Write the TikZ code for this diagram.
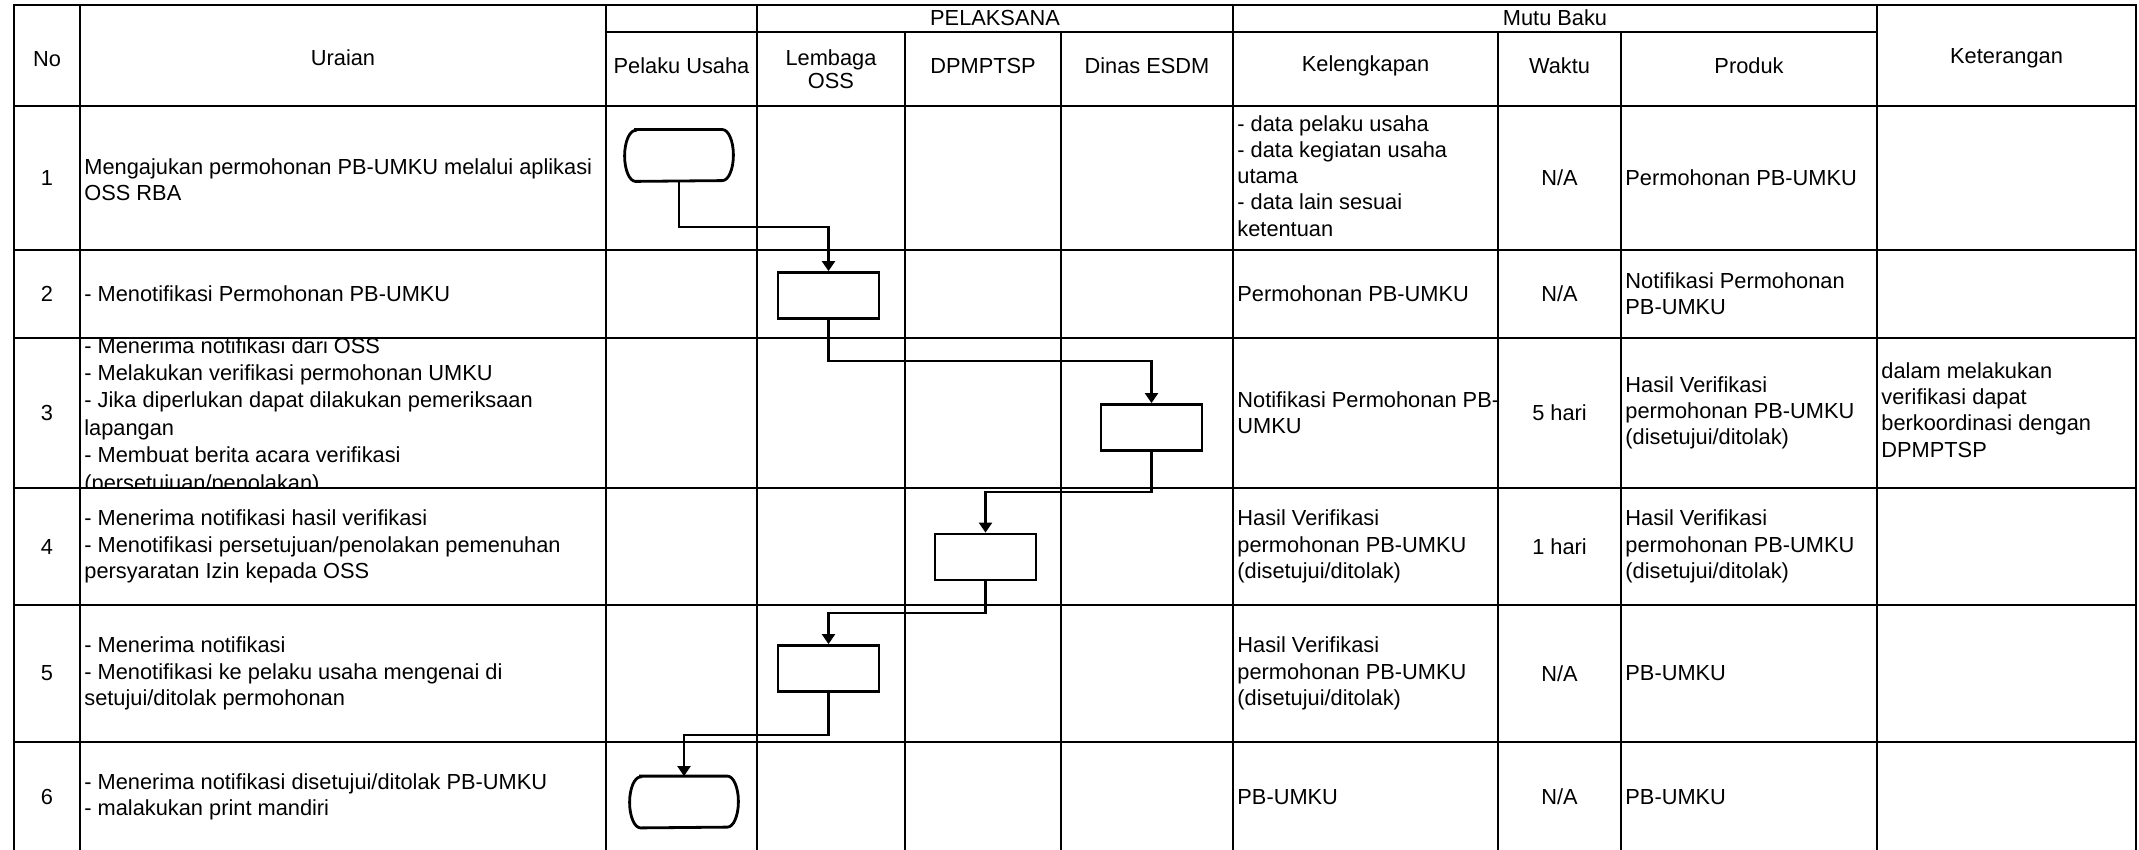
\documentclass[tikz,border=0pt]{standalone}
\usepackage{fontspec}
\setmainfont{Liberation Sans}
\usetikzlibrary{arrows.meta}
\begin{document}
\begin{tikzpicture}[x=0.5pt,y=-0.5pt,
  grid/.style={line width=1pt, line cap=rect},
  txt/.style={font=\fontsize{10.9}{13.1}\selectfont, inner sep=0pt, align=left, anchor=west},
  ctxt/.style={font=\fontsize{10.9}{13.1}\selectfont, inner sep=0pt, align=center},
  procbox/.style={draw, line width=1.4pt, minimum width=50.5pt, minimum height=23pt, inner sep=0pt},
  termbox/.style={minimum width=54pt, minimum height=25.5pt, inner sep=0pt},
  termline/.style={line width=1.4pt},
  flow/.style={line width=1.1pt, -{Triangle[length=5pt,width=6.5pt]}}
]
\useasboundingbox (0,0) rectangle (2139,850);

% ---------- header texts ----------
\node[ctxt] (hNo) at (47,59) {No};
\node[ctxt] (hUr) at (343,58) {Uraian};
\node[ctxt] (hPel) at (995,18) {PELAKSANA};
\node[ctxt] (hMutu) at (1555,18) {Mutu Baku};
\node[ctxt] (hPU) at (681.5,66) {Pelaku Usaha};
\node[ctxt, font=\fontsize{10.9}{11.5}\selectfont] (hLO) at (831,69) {Lembaga\\OSS};
\node[ctxt] (hDP) at (983,66) {DPMPTSP};
\node[ctxt] (hDE) at (1147,66) {Dinas ESDM};
\node[ctxt] (hKel) at (1365.5,66) {Kelengkapan};
\node[ctxt] (hWak) at (1559.5,66) {Waktu};
\node[ctxt] (hPro) at (1749,66) {Produk};
\node[ctxt] (hKet) at (2006.5,58) {Keterangan};

% ---------- row numbers ----------
\node[ctxt] (n1) at (47,178) {1};
\node[ctxt] (n2) at (47,294) {2};
\node[ctxt] (n3) at (47,413) {3};
\node[ctxt] (n4) at (47,546.5) {4};
\node[ctxt] (n5) at (47,673.5) {5};
\node[ctxt] (n6) at (47,797) {6};

% ---------- Uraian ----------
\node[txt] (u1) at (84,180) {Mengajukan permohonan PB-UMKU melalui aplikasi\\OSS RBA};
\node[txt] (u2) at (84,294) {- Menotifikasi Permohonan PB-UMKU};
\begin{scope}
\clip (80,338) rectangle (606,488);
\node[txt, font=\fontsize{10.9}{13.7}\selectfont] (u3) at (84,416) {- Menerima notifikasi dari OSS\\- Melakukan verifikasi permohonan UMKU\\- Jika diperlukan dapat dilakukan pemeriksaan\\lapangan\\- Membuat berita acara verifikasi\\(persetujuan/penolakan)};
\end{scope}
\node[txt] (u4) at (84,546.5) {- Menerima notifikasi hasil verifikasi\\- Menotifikasi persetujuan/penolakan pemenuhan\\persyaratan Izin kepada OSS};
\node[txt] (u5) at (84,673.5) {- Menerima notifikasi\\- Menotifikasi ke pelaku usaha mengenai di\\setujui/ditolak permohonan};
\node[txt] (u6) at (84,797) {- Menerima notifikasi disetujui/ditolak PB-UMKU\\- malakukan print mandiri};

% ---------- Kelengkapan ----------
\node[txt] (k1) at (1237,176) {- data pelaku usaha\\- data kegiatan usaha\\utama\\- data lain sesuai\\ketentuan};
\node[txt] (k2) at (1237,294) {Permohonan PB-UMKU};
\node[txt] (k3) at (1237,413) {Notifikasi Permohonan PB-\\UMKU};
\node[txt] (k4) at (1237,546.5) {Hasil Verifikasi\\permohonan PB-UMKU\\(disetujui/ditolak)};
\node[txt] (k5) at (1237,673.5) {Hasil Verifikasi\\permohonan PB-UMKU\\(disetujui/ditolak)};
\node[txt] (k6) at (1237,797) {PB-UMKU};

% ---------- Waktu ----------
\node[ctxt] (w1) at (1559.5,178) {N/A};
\node[ctxt] (w2) at (1559.5,294) {N/A};
\node[ctxt] (w3) at (1559.5,413) {5 hari};
\node[ctxt] (w4) at (1559.5,546.5) {1 hari};
\node[ctxt] (w5) at (1559.5,673.5) {N/A};
\node[ctxt] (w6) at (1559.5,797) {N/A};

% ---------- Produk ----------
\node[txt] (p1) at (1625,178) {Permohonan PB-UMKU};
\node[txt] (p2) at (1625,294) {Notifikasi Permohonan\\PB-UMKU};
\node[txt] (p3) at (1625,413) {Hasil Verifikasi\\permohonan PB-UMKU\\(disetujui/ditolak)};
\node[txt] (p4) at (1625,546.5) {Hasil Verifikasi\\permohonan PB-UMKU\\(disetujui/ditolak)};
\node[txt] (p5) at (1625,673.5) {PB-UMKU};
\node[txt] (p6) at (1625,797) {PB-UMKU};

% ---------- Keterangan ----------
\node[txt] (r3) at (1881,410) {dalam melakukan\\verifikasi dapat\\berkoordinasi dengan\\DPMPTSP};

% ---------- grid ----------
\foreach \y in {5,106,250,338,488,605,742} \draw[grid] (14,\y) -- (2136,\y);
\draw[grid] (606,32) -- (1877,32);
\foreach \x in {14,80,606,757,1233,1877,2136} \draw[grid] (\x,5) -- (\x,850);
\foreach \x in {905,1061,1498,1621} \draw[grid] (\x,32) -- (\x,850);

% ---------- flow shapes ----------
\node[termbox] (t1) at (679,155.5) {};
\node[procbox] (b2) at (828.5,295.5) {};
\node[procbox] (b3) at (1151.5,427.5) {};
\node[procbox] (b4) at (985.5,557) {};
\node[procbox] (b5) at (828.5,668.5) {};
\node[termbox] (t6) at (684,802) {};

\foreach \t in {t1,t6} {
  \draw[termline] ([xshift=5.5pt]\t.north west) -- ([xshift=-5.5pt]\t.north east)
    arc[start angle=90, end angle=-90, x radius=5.5pt, y radius=12.75pt]
    -- ([xshift=5.5pt]\t.south west)
    arc[start angle=270, end angle=90, x radius=5.5pt, y radius=12.75pt] -- cycle;
}

% ---------- connectors ----------
\coordinate (j1) at (0,227);
\coordinate (j2) at (0,361);
\coordinate (j3) at (0,492);
\coordinate (j4) at (0,613);
\coordinate (j5) at (0,735);
\draw[flow] (t1.south) -- (t1.south |- j1) -| (b2.north);
\draw[flow] (b2.south) -- (b2.south |- j2) -| (b3.north);
\draw[flow] (b3.south) -- (b3.south |- j3) -| (b4.north);
\draw[flow] (b4.south) -- (b4.south |- j4) -| (b5.north);
\draw[flow] (b5.south) -- (b5.south |- j5) -| (t6.north);
\end{tikzpicture}
\end{document}
